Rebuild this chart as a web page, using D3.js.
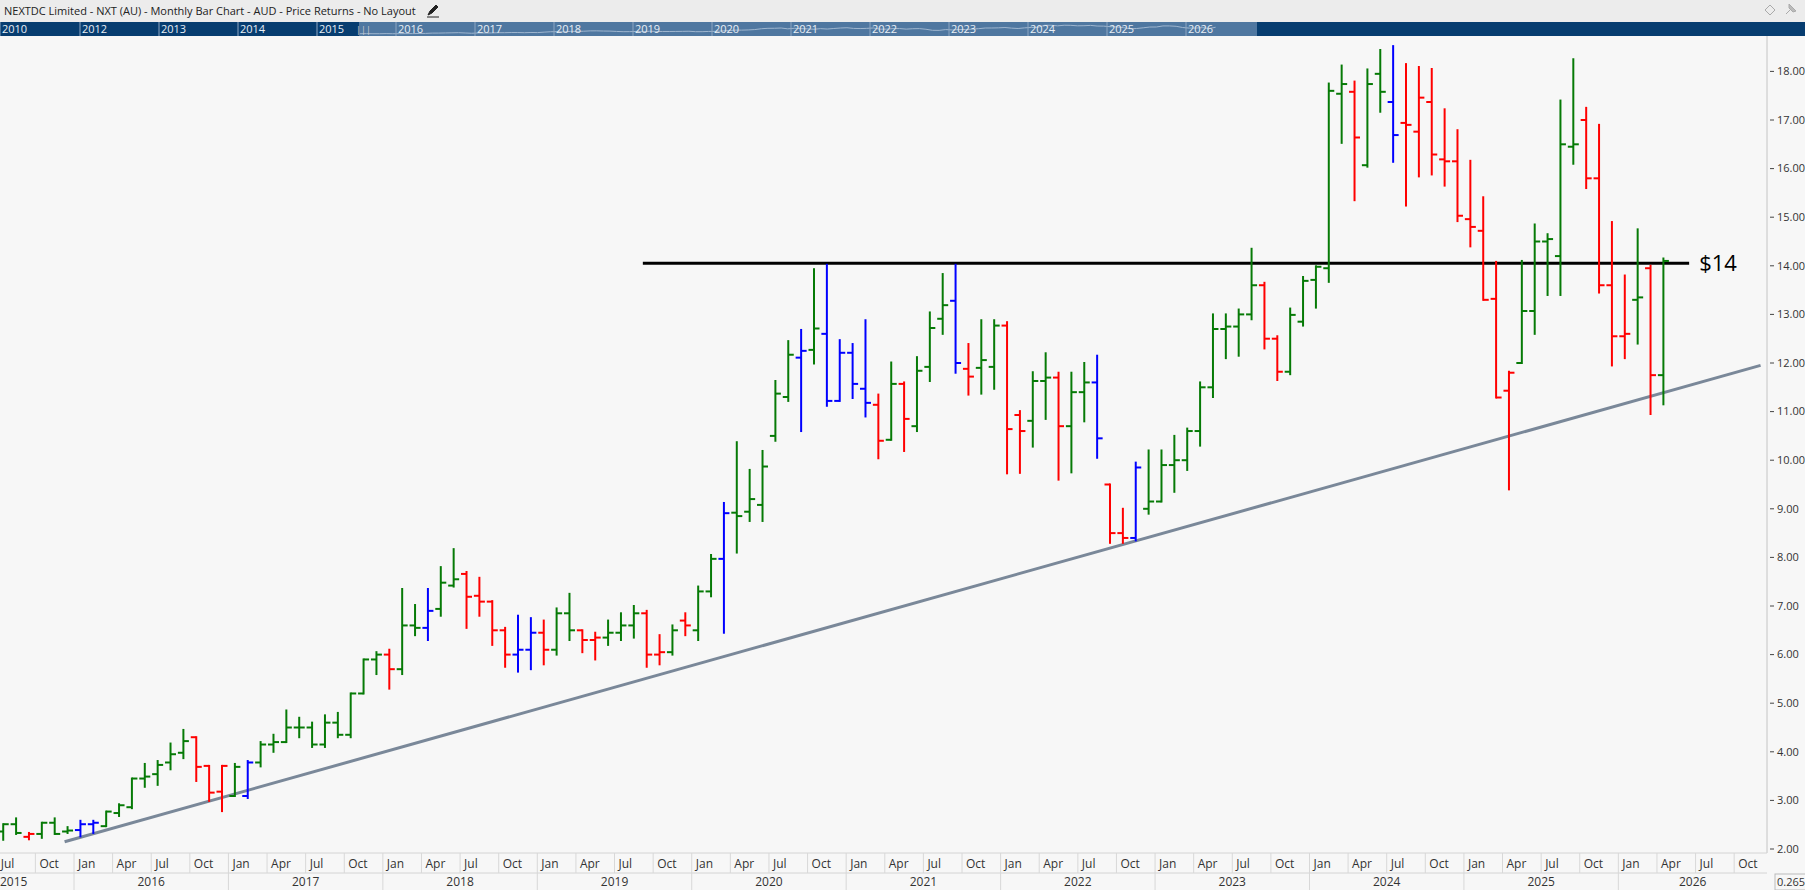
<!DOCTYPE html>
<html>
<head>
<meta charset="utf-8">
<script src="https://cdn.jsdelivr.net/npm/d3@7"></script>
<style>
  body { margin: 0; background: #f7f7f7; overflow: hidden; }
  svg { display: block; font-family: "Open Sans", "Noto Sans", sans-serif; }
</style>
</head>
<body>
<svg id="chart"></svg>
<script>
// monthly bars from Jun 2015, index 0 = Jan 2016
const firstMonth = -7;
const opens = [
  2.40, 2.36, 2.51, 2.25, 2.31, 2.54, 2.36,
  2.39, 2.51, 2.47, 2.74, 2.86, 3.45, 3.54, 3.78, 3.98, 4.30, 3.71, 3.18,
  3.09, 3.09, 3.78, 4.15, 4.20, 4.50, 4.50, 4.15, 4.60, 4.35, 5.20, 5.90,
  6.00, 5.70, 6.60, 6.55, 6.94, 7.42, 7.66, 7.21, 7.09, 6.50, 6.00, 6.10,
  6.45, 6.10, 6.85, 6.50, 6.30, 6.35, 6.45, 6.60, 6.85, 6.00, 6.05, 6.70,
  6.50, 7.30, 7.97, 8.92, 8.94, 9.08, 10.50, 11.30, 12.11, 12.27, 12.60, 11.22,
  12.21, 11.47, 11.14, 10.42, 11.57, 10.70, 11.92, 12.91, 13.28, 11.88, 11.90, 11.92,
  12.77, 10.93, 10.81, 11.63, 11.70, 10.70, 11.40, 11.60, 9.50, 8.50, 8.40, 9.00,
  9.15, 9.90, 10.00, 10.60, 11.50, 12.70, 12.75, 13.00, 13.60, 12.50, 11.82, 12.85,
  13.71, 13.95, 17.54, 17.58, 16.07, 17.95, 17.37, 16.94, 16.76, 17.37, 16.19, 16.15,
  14.96, 14.72, 13.32, 11.43, 12.00, 13.07, 14.50, 14.20, 16.45, 17.00, 15.80, 13.60,
  12.55, 13.30, 13.95, 11.75
];
const highs = [
  2.45, 2.51, 2.63, 2.33, 2.54, 2.63, 2.45,
  2.58, 2.58, 2.77, 2.92, 3.45, 3.75, 3.81, 4.17, 4.45, 4.30, 3.71, 3.71,
  3.75, 3.81, 4.20, 4.35, 4.85, 4.70, 4.60, 4.75, 4.80, 5.20, 5.90, 6.05,
  6.10, 7.35, 7.02, 7.35, 7.80, 8.17, 7.70, 7.58, 7.10, 6.55, 6.80, 6.75,
  6.70, 6.95, 7.25, 6.50, 6.45, 6.70, 6.85, 7.00, 6.90, 6.40, 6.60, 6.85,
  7.40, 8.05, 9.12, 10.37, 9.80, 10.19, 11.63, 12.45, 12.68, 13.93, 14.02, 12.47,
  12.39, 12.88, 11.35, 12.01, 11.60, 12.12, 13.04, 13.83, 14.02, 12.39, 12.88, 12.88,
  12.84, 11.01, 11.81, 12.20, 11.80, 11.80, 12.00, 12.15, 9.50, 9.00, 9.95, 10.20,
  10.20, 10.50, 10.65, 11.60, 13.00, 13.00, 13.10, 14.35, 13.65, 12.55, 13.12, 13.77,
  13.99, 17.75, 18.12, 17.79, 18.04, 18.44, 18.52, 18.15, 18.09, 18.05, 17.22, 16.79,
  16.16, 15.41, 14.08, 11.82, 14.10, 14.85, 14.65, 17.40, 18.25, 17.25, 16.90, 14.90,
  13.80, 14.75, 14.00, 14.15
];
const lows = [
  2.25, 2.19, 2.31, 2.20, 2.23, 2.31, 2.33,
  2.26, 2.33, 2.47, 2.68, 2.84, 3.28, 3.32, 3.64, 3.87, 3.40, 2.99, 2.78,
  3.09, 3.05, 3.70, 4.00, 4.20, 4.30, 4.10, 4.10, 4.30, 4.30, 5.20, 5.60,
  5.30, 5.60, 6.40, 6.30, 6.80, 7.40, 6.55, 6.80, 6.20, 5.75, 5.65, 5.70,
  5.80, 6.00, 6.30, 6.05, 5.90, 6.20, 6.30, 6.35, 5.75, 5.80, 6.00, 6.40,
  6.30, 7.20, 6.45, 8.10, 8.75, 8.75, 10.40, 11.22, 10.60, 11.99, 11.12, 11.22,
  11.28, 10.90, 10.04, 10.42, 10.19, 10.60, 11.63, 12.60, 11.80, 11.35, 11.37, 11.47,
  9.73, 9.74, 10.28, 10.85, 9.60, 9.75, 10.80, 10.05, 8.30, 8.30, 8.35, 8.90,
  9.15, 9.35, 9.80, 10.30, 11.30, 12.10, 12.15, 12.90, 12.30, 11.65, 11.77, 12.77,
  13.14, 13.67, 16.53, 15.35, 16.04, 17.17, 16.14, 15.24, 15.84, 15.88, 15.65, 14.92,
  14.40, 13.30, 11.29, 9.40, 12.00, 12.60, 13.40, 13.40, 16.10, 15.60, 13.45, 11.95,
  12.10, 12.40, 10.95, 11.15
];
const closes = [
  2.34, 2.51, 2.33, 2.31, 2.54, 2.31, 2.38,
  2.51, 2.54, 2.77, 2.90, 3.45, 3.49, 3.73, 3.95, 4.22, 3.69, 3.16, 3.71,
  3.69, 3.78, 4.15, 4.20, 4.50, 4.50, 4.15, 4.60, 4.35, 5.20, 5.90, 6.00,
  5.70, 6.60, 6.55, 6.90, 7.48, 7.55, 7.19, 7.09, 6.50, 6.00, 6.10, 6.45,
  6.10, 6.85, 6.50, 6.30, 6.35, 6.45, 6.60, 6.85, 6.00, 6.05, 6.50, 6.60,
  7.30, 7.97, 8.91, 8.85, 9.20, 9.87, 11.37, 12.17, 12.25, 12.71, 11.22, 12.21,
  11.57, 11.18, 10.40, 11.57, 10.85, 11.84, 12.72, 13.19, 12.00, 11.72, 12.06, 12.77,
  10.64, 10.60, 11.63, 11.70, 10.70, 11.40, 11.60, 10.45, 8.50, 8.40, 9.85, 9.15,
  9.90, 10.00, 10.60, 11.50, 12.70, 12.75, 13.00, 13.60, 12.50, 11.82, 12.99, 13.69,
  13.98, 17.60, 17.74, 16.64, 17.74, 17.58, 16.69, 16.90, 17.46, 16.29, 16.15, 15.03,
  14.80, 13.30, 11.29, 11.80, 13.07, 14.50, 14.55, 16.50, 16.50, 15.80, 13.60, 12.55,
  12.60, 13.35, 11.75, 14.10
];
// bar colour codes as shown by the charting package, one string per year
const colourCodes = [
  'rggrggg',
  'bbgggggggrrr',
  'gbgggggggggg',
  'rggbggrrrrbb',
  'rggrrgggrrgr',
  'ggbgggggbgbb',
  'bbrgrgggbrgg',
  'rrggrggbrrbg',
  'ggggggggrrgg',
  'gggrggbrrrrr',
  'rrrrgggggrrr',
  'rgrg',
].join('').split('');

const yTicks = d3.range(2, 19, 1);
const monthNames = ['Jan', 'Apr', 'Jul', 'Oct'];
const years = d3.range(2015, 2027);
const navYears = [2010, 2012, 2013, 2014, 2015, 2016, 2017, 2018, 2019, 2020, 2021, 2022, 2023, 2024, 2025, 2026];
const resistance = { from: 43.7, to: 125, value: 14.05, label: '$14' };
const trendLine = [[-1.23, 2.15], [130.55, 11.95]];

const width = 1805;
const height = 890;
const plotRight = 1767;
const plotTop = 36;
const plotBottom = 853;
const colours = { g: '#067a06', r: '#ff0000', b: '#0000ff' };

const svg = d3.select('#chart').attr('width', width).attr('height', height);

const x = d3.scaleLinear().domain([-6.25, 131.05]).range([0, plotRight]);
const y = d3.scaleLinear().domain([2, 18]).range([849, 71.4]);

// header
svg.append('rect').attr('width', width).attr('height', 22).attr('fill', '#ececec');
svg.append('text').attr('x', 4).attr('y', 15).attr('font-size', 11).attr('fill', '#222')
  .text('NEXTDC Limited - NXT (AU) - Monthly Bar Chart - AUD - Price Returns - No Layout');
svg.append('path').attr('d', 'M428,15 l2,-4 l6,-6 l2,2 l-6,6 z M427,17 h12')
  .attr('fill', '#222').attr('stroke', '#222').attr('stroke-width', 1);
svg.append('path').attr('d', 'M1770,5 l5,5 l-5,5 l-5,-5 z').attr('fill', 'none').attr('stroke', '#aaa');
svg.append('path').attr('d', 'M1786,14 l5,-5 M1789,4 l7,7 l-3,1 l-4,-4 z').attr('fill', '#bbb').attr('stroke', '#aaa');

// navigator strip
const nav = svg.append('g').attr('transform', 'translate(0,22)');
const navX = d3.scaleLinear().domain([2012, 2013]).range([80, 159]);
nav.append('rect').attr('width', width).attr('height', 14).attr('fill', '#073d70');
nav.append('rect').attr('x', 359).attr('width', 1257 - 359).attr('height', 14).attr('fill', '#4f77a0');
nav.append('path')
  .datum(closes)
  .attr('d', d3.line().x((d, i) => navX(2015.5 + (i + 0.5) / 12)).y((d) => 13 - d * 0.55))
  .attr('fill', 'none').attr('stroke', '#9fb6cf').attr('stroke-width', 1);
nav.selectAll('.ny').data(navYears).join('g')
  .attr('transform', (d) => `translate(${ d === 2010 ? 0 : navX(d) },0)`)
  .call((g) => {
    g.append('line').attr('y2', 14).attr('stroke', '#8ea7c2').attr('stroke-width', 1);
    g.append('text').attr('x', 2).attr('y', 11).attr('font-size', 11).attr('fill', '#e8eef5').text((d) => d);
  });
nav.append('text').attr('x', 356).attr('y', 11).attr('font-size', 9).attr('fill', '#ccc').text('|||');

// y axis
svg.append('line').attr('x1', plotRight).attr('x2', plotRight).attr('y1', plotTop).attr('y2', plotBottom)
  .attr('stroke', '#c4c4c4');
const yAxis = svg.append('g').selectAll('g').data(yTicks).join('g')
  .attr('transform', (d) => `translate(${ plotRight },${ y(d) })`);
yAxis.append('line').attr('x1', 3).attr('x2', 7).attr('stroke', '#444');
yAxis.append('text').attr('x', 10).attr('dy', '0.35em').attr('font-size', 11).attr('fill', '#333')
  .text((d) => d.toFixed(2));

// bottom axis
const axis = svg.append('g');
axis.append('line').attr('x1', 0).attr('x2', plotRight).attr('y1', plotBottom).attr('y2', plotBottom).attr('stroke', '#d4d4d4');
axis.append('line').attr('x1', 0).attr('x2', plotRight).attr('y1', 873).attr('y2', 873).attr('stroke', '#d4d4d4');
const quarters = d3.range(-6, 132, 3).filter((m) => x(m - 0.5) < plotRight - 10);
const q = axis.selectAll('.q').data(quarters).join('g')
  .attr('transform', (d) => `translate(${ x(d - 0.5) },0)`);
q.append('line').attr('y1', plotBottom).attr('y2', 873).attr('stroke', '#d8d8d8');
q.append('text').attr('x', 4).attr('y', 868).attr('font-size', 12).attr('fill', '#333')
  .text((d) => monthNames[((d % 12) + 12) % 12 / 3]);
const yr = axis.selectAll('.yr').data(years).join('g');
yr.append('line')
  .attr('x1', (d) => x((d - 2016) * 12 - 0.5)).attr('x2', (d) => x((d - 2016) * 12 - 0.5))
  .attr('y1', 873).attr('y2', height).attr('stroke', '#d8d8d8');
yr.append('text')
  .attr('x', (d) => (d === 2015 ? 0 : (x((d - 2016) * 12 - 0.5) + Math.min(x((d - 2015) * 12 - 0.5), plotRight)) / 2))
  .attr('text-anchor', (d) => (d === 2015 ? 'start' : 'middle'))
  .attr('y', 886).attr('font-size', 12).attr('fill', '#333').text((d) => d);
svg.append('rect').attr('x', 1775).attr('y', 874).attr('width', 34).attr('height', 16)
  .attr('fill', '#f7f7f7').attr('stroke', '#bbb');
svg.append('text').attr('x', 1777).attr('y', 886).attr('font-size', 11).attr('fill', '#333').text('0.265');

// plot
const plot = svg.append('g');
plot.append('line')
  .attr('x1', x(trendLine[0][0])).attr('y1', y(trendLine[0][1]))
  .attr('x2', x(trendLine[1][0])).attr('y2', y(trendLine[1][1]))
  .attr('stroke', '#7a8899').attr('stroke-width', 3);
plot.append('line')
  .attr('x1', x(resistance.from)).attr('x2', x(resistance.to))
  .attr('y1', y(resistance.value)).attr('y2', y(resistance.value))
  .attr('stroke', '#000').attr('stroke-width', 3);
plot.append('text').attr('x', x(resistance.to) + 10).attr('y', y(resistance.value) + 8)
  .attr('font-size', 22).attr('fill', '#000').text(resistance.label);

const bars = plot.selectAll('.bar').data(opens.map((o, i) => ({
  m: firstMonth + i, o, h: highs[i], l: lows[i], c: closes[i], col: colours[colourCodes[i]],
}))).join('g')
  .attr('stroke', (d) => d.col).attr('stroke-width', 2);
bars.append('line').attr('x1', (d) => x(d.m)).attr('x2', (d) => x(d.m))
  .attr('y1', (d) => y(d.h) - 1).attr('y2', (d) => y(d.l) + 1);
bars.append('line').attr('x1', (d) => x(d.m) - 5.5).attr('x2', (d) => x(d.m))
  .attr('y1', (d) => y(d.o)).attr('y2', (d) => y(d.o));
bars.append('line').attr('x1', (d) => x(d.m)).attr('x2', (d) => x(d.m) + 5.5)
  .attr('y1', (d) => y(d.c)).attr('y2', (d) => y(d.c));
</script>
</body>
</html>
